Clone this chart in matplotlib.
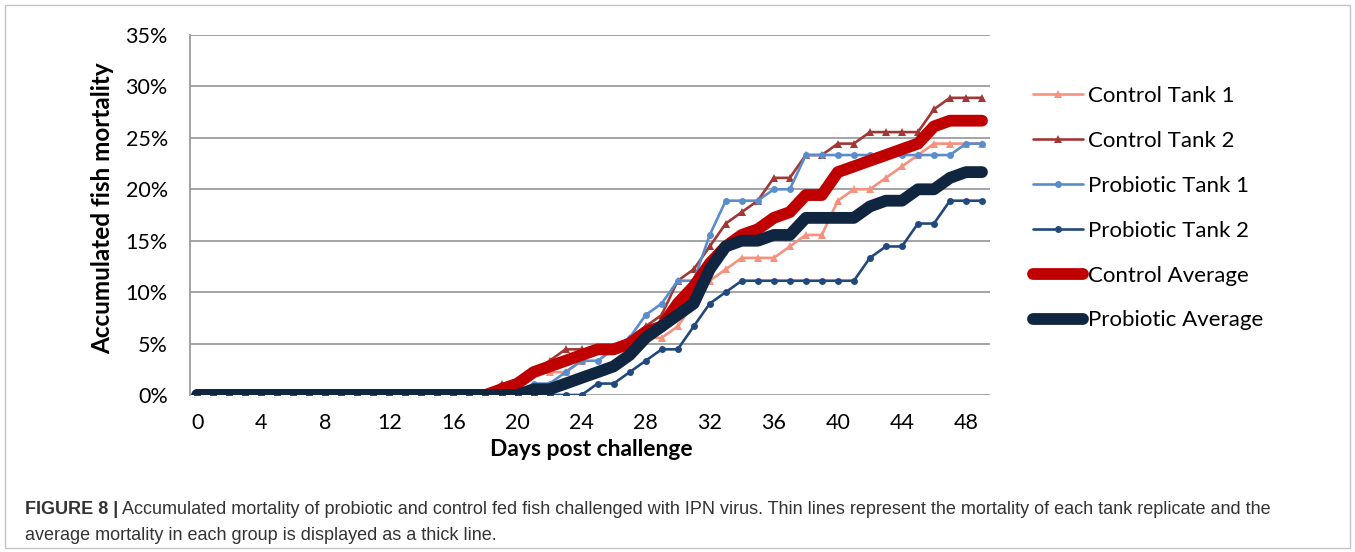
import matplotlib
matplotlib.use("Agg")
import matplotlib.pyplot as plt
from matplotlib.ticker import FuncFormatter
from matplotlib.patches import Rectangle

# ---------------- data (accumulated mortality, %) ----------------
days = list(range(50))

control_tank1 = [0, 0, 0, 0, 0, 0, 0, 0, 0, 0,
                 0, 0, 0, 0, 0, 0, 0, 0, 0, 0,
                 1.11, 2.22, 2.22, 2.22, 3.33, 4.44, 4.44, 4.44, 5.56, 5.56,
                 6.67, 8.89, 11.11, 12.22, 13.33, 13.33, 13.33, 14.44, 15.56, 15.56,
                 18.89, 20.00, 20.00, 21.11, 22.22, 23.33, 24.44, 24.44, 24.44, 24.44]

control_tank2 = [0, 0, 0, 0, 0, 0, 0, 0, 0, 0,
                 0, 0, 0, 0, 0, 0, 0, 0, 0, 1.11,
                 1.11, 2.22, 3.33, 4.44, 4.44, 4.44, 4.44, 5.56, 6.67, 7.78,
                 11.11, 12.22, 14.44, 16.67, 17.78, 18.89, 21.11, 21.11, 23.33, 23.33,
                 24.44, 24.44, 25.56, 25.56, 25.56, 25.56, 27.78, 28.89, 28.89, 28.89]

probiotic_tank1 = [0, 0, 0, 0, 0, 0, 0, 0, 0, 0,
                   0, 0, 0, 0, 0, 0, 0, 0, 0, 0,
                   0, 1.11, 1.11, 2.22, 3.33, 3.33, 4.44, 5.56, 7.78, 8.89,
                   11.11, 11.11, 15.56, 18.89, 18.89, 18.89, 20.00, 20.00, 23.33, 23.33,
                   23.33, 23.33, 23.33, 23.33, 23.33, 23.33, 23.33, 23.33, 24.44, 24.44]

probiotic_tank2 = [0, 0, 0, 0, 0, 0, 0, 0, 0, 0,
                   0, 0, 0, 0, 0, 0, 0, 0, 0, 0,
                   0, 0, 0, 0, 0, 1.11, 1.11, 2.22, 3.33, 4.44,
                   4.44, 6.67, 8.89, 10.00, 11.11, 11.11, 11.11, 11.11, 11.11, 11.11,
                   11.11, 11.11, 13.33, 14.44, 14.44, 16.67, 16.67, 18.89, 18.89, 18.89]

control_average = [0, 0, 0, 0, 0, 0, 0, 0, 0, 0,
                   0, 0, 0, 0, 0, 0, 0, 0, 0, 0.56,
                   1.11, 2.22, 2.78, 3.33, 3.89, 4.44, 4.44, 5.00, 6.11, 6.67,
                   8.89, 10.56, 12.78, 14.44, 15.56, 16.11, 17.22, 17.78, 19.44, 19.44,
                   21.67, 22.22, 22.78, 23.33, 23.89, 24.44, 26.11, 26.67, 26.67, 26.67]

probiotic_average = [0, 0, 0, 0, 0, 0, 0, 0, 0, 0,
                     0, 0, 0, 0, 0, 0, 0, 0, 0, 0,
                     0, 0.56, 0.56, 1.11, 1.67, 2.22, 2.78, 3.89, 5.56, 6.67,
                     7.78, 8.89, 12.22, 14.44, 15.00, 15.00, 15.56, 15.56, 17.22, 17.22,
                     17.22, 17.22, 18.33, 18.89, 18.89, 20.00, 20.00, 21.11, 21.67, 21.67]

x_ticks = list(range(0, 49, 4))
y_ticks = [0, 5, 10, 15, 20, 25, 30, 35]

caption_bold = "FIGURE 8 |"
caption_line1 = (" Accumulated mortality of probiotic and control fed fish challenged with IPN virus. "
                 "Thin lines represent the mortality of each tank replicate and the")
caption_line2 = "average mortality in each group is displayed as a thick line."

# ---------------- figure ----------------
W, H = 1355, 552
plt.rcParams["font.family"] = ["Lato", "DejaVu Sans"]
fig = plt.figure(figsize=(W / 100, H / 100), dpi=100)
fig.patch.set_facecolor("white")

# outer frame
fig.patches.append(Rectangle((5 / W, 4 / H), 1345 / W, 543 / H, transform=fig.transFigure,
                             fill=False, edgecolor="#c4c4c4", linewidth=1.0))

ax = fig.add_axes([190 / W, 1 - 395 / H, 800 / W, 360 / H])

series = [
    ("Control Tank 1", control_tank1, dict(color="#F7907D", lw=1.9, marker="^", ms=6.0)),
    ("Control Tank 2", control_tank2, dict(color="#A13836", lw=1.9, marker="^", ms=6.0)),
    ("Probiotic Tank 1", probiotic_tank1, dict(color="#5A8DCC", lw=1.9, marker="o", ms=5.0)),
    ("Probiotic Tank 2", probiotic_tank2, dict(color="#22497C", lw=1.9, marker="o", ms=5.0)),
    ("Control Average", control_average, dict(color="#C00000", lw=8.5, marker=None)),
    ("Probiotic Average", probiotic_average, dict(color="#0F2540", lw=8.5, marker=None)),
]

handles = []
for name, vals, st in series:
    line, = ax.plot(days, vals, color=st["color"], lw=st["lw"], marker=st["marker"],
                    markersize=st.get("ms", 0), markeredgewidth=0,
                    solid_capstyle="round", solid_joinstyle="round", label=name,
                    zorder=3)
    handles.append(line)

ax.set_xlim(-0.45, 49.5)
ax.set_ylim(0, 35)
ax.set_xticks(x_ticks)
ax.set_yticks(y_ticks)
ax.yaxis.set_major_formatter(FuncFormatter(lambda v, p: f"{int(round(v))}%"))
ax.grid(axis="y", color="#9c9c9c", lw=1.3, zorder=0)
ax.set_axisbelow(True)
for s in ["top", "right", "bottom"]:
    ax.spines[s].set_visible(False)
ax.spines["left"].set_color("#9c9c9c")
ax.spines["left"].set_linewidth(1.3)
ax.tick_params(axis="both", length=0, labelsize=15.5, colors="black")
ax.tick_params(axis="x", pad=13)
ax.tick_params(axis="y", pad=16)

ax.set_xlabel("Days post challenge", fontsize=16.5, fontweight="bold", va="center")
ax.xaxis.set_label_coords((591 - 190) / 800, (395 - 449) / 360)
ax.set_ylabel("Accumulated fish mortality", fontsize=17.5, fontweight="bold", va="center")
ax.yaxis.set_label_coords((103 - 190) / 800, (395 - 208) / 360)

leg = fig.legend(handles=handles, loc="upper left", bbox_to_anchor=(1033 / W, 1 - 86 / H),
                 bbox_transform=fig.transFigure, frameon=False, fontsize=16,
                 handlelength=2.25, handletextpad=0.22, labelspacing=1.12,
                 borderpad=0, borderaxespad=0)

# caption
cap_kw = dict(family=["Liberation Sans Narrow", "Liberation Sans", "DejaVu Sans"],
              fontsize=13.0, color="#333333", va="center", ha="left")
t_bold = fig.text(25 / W, 1 - 509 / H, caption_bold, fontweight="bold", **cap_kw)
fig.canvas.draw()
bb = t_bold.get_window_extent(renderer=fig.canvas.get_renderer())
fig.text(bb.x1 / W, 1 - 509 / H, caption_line1, **cap_kw)
fig.text(25 / W, 1 - 535 / H, caption_line2, **cap_kw)

fig.savefig("out.png", dpi=100, facecolor="white")
